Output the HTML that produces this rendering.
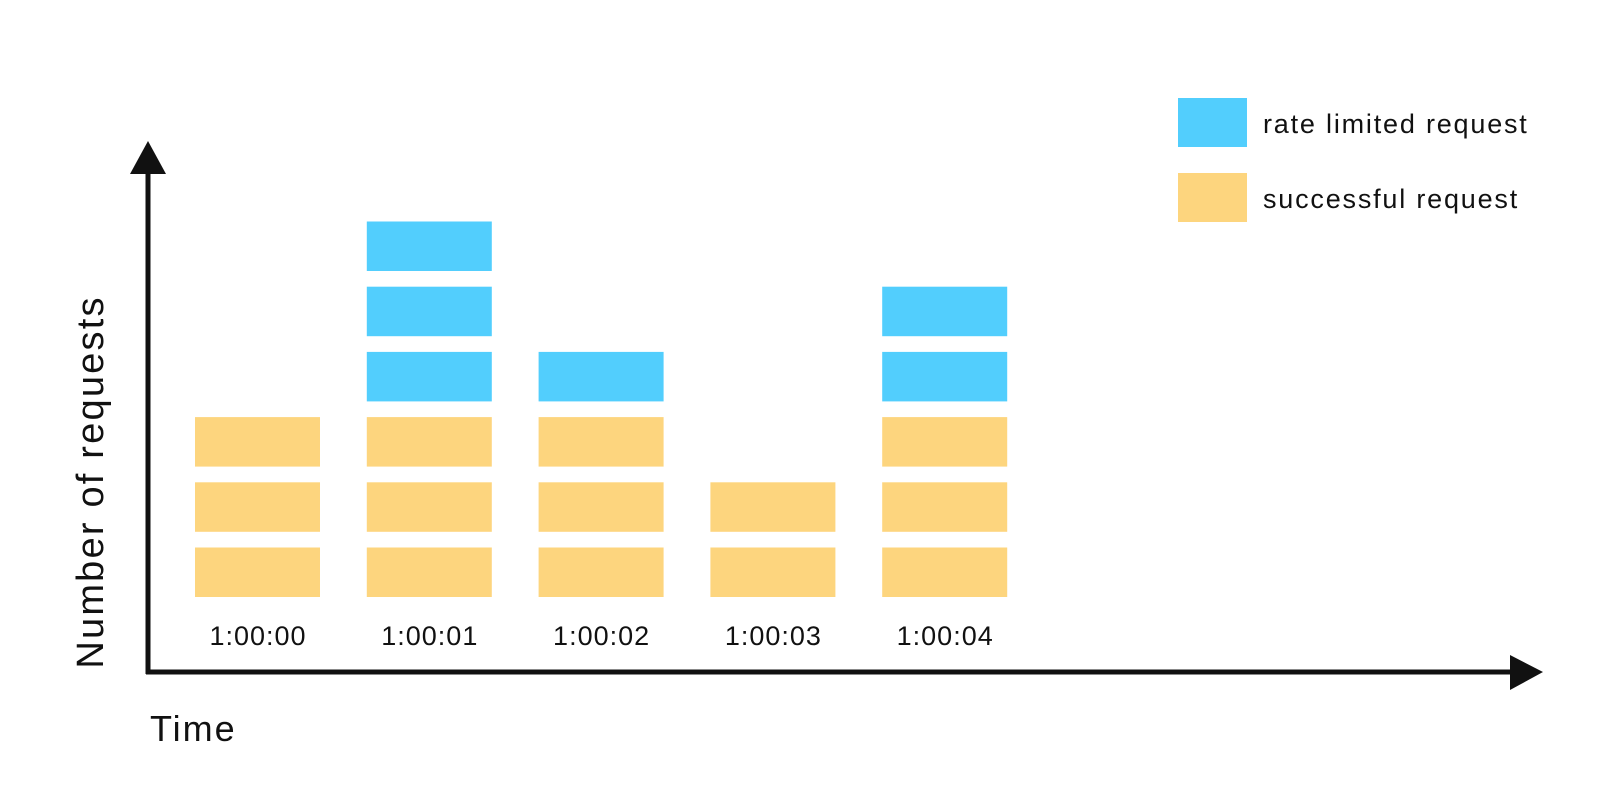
<!DOCTYPE html>
<html><head><meta charset="utf-8"><style>
body{margin:0;background:#fff;}
svg{display:block;font-family:"Liberation Sans","DejaVu Sans",sans-serif;}
</style></head><body>
<svg id="chart" width="1600" height="798" viewBox="0 0 1600 798">
<g id="bars"></g>
<g id="xlabels"></g>
<line x1="148" y1="170" x2="148" y2="674" stroke="#111" stroke-width="5"/>
<polygon points="148,141 130,174 166,174" fill="#111"/>
<line x1="146" y1="672" x2="1515" y2="672" stroke="#111" stroke-width="5"/>
<polygon points="1543,672 1510,655 1510,690" fill="#111"/>
<text x="150" y="741" font-size="36" letter-spacing="2" fill="#111">Time</text>
<text transform="translate(103,482) rotate(-90)" text-anchor="middle" font-size="38" letter-spacing="2.2" fill="#111">Number of requests</text>
<rect x="1178" y="98" width="69" height="49" fill="#52CEFD"/>
<text x="1263" y="133" font-size="27" letter-spacing="1.8" fill="#111">rate limited request</text>
<rect x="1178" y="173" width="69" height="49" fill="#FDD57E"/>
<text x="1263" y="208" font-size="27" letter-spacing="1.8" fill="#111">successful request</text>
</svg>
<script>
const categories=["1:00:00","1:00:01","1:00:02","1:00:03","1:00:04"];
const successful=[3,3,3,2,3];
const rateLimited=[0,3,1,0,2];
const NS="http://www.w3.org/2000/svg";
const x0=195,step=171.8,bw=125,base=597,rowH=65.2,bh=49.5;
function xPos(i){return x0+i*step;}
function yTop(k){return base-k*rowH-bh;}
const bars=document.getElementById('bars'),xl=document.getElementById('xlabels');
categories.forEach((c,i)=>{
  for(let k=0;k<successful[i]+rateLimited[i];k++){
    const r=document.createElementNS(NS,'rect');
    r.setAttribute('x',xPos(i));r.setAttribute('y',yTop(k));
    r.setAttribute('width',bw);r.setAttribute('height',bh);
    const ok=k<successful[i];
    r.setAttribute('fill',ok?'#FDD57E':'#52CEFD');
    
    
    bars.appendChild(r);
  }
  const t=document.createElementNS(NS,'text');
  t.setAttribute('x',xPos(i)+bw/2+0.5);t.setAttribute('y',645);
  t.setAttribute('text-anchor','middle');t.setAttribute('font-size','27');t.setAttribute('letter-spacing','1');t.setAttribute('fill','#111');
  t.textContent=c;
  
  
  xl.appendChild(t);
});
</script>
</body></html>
